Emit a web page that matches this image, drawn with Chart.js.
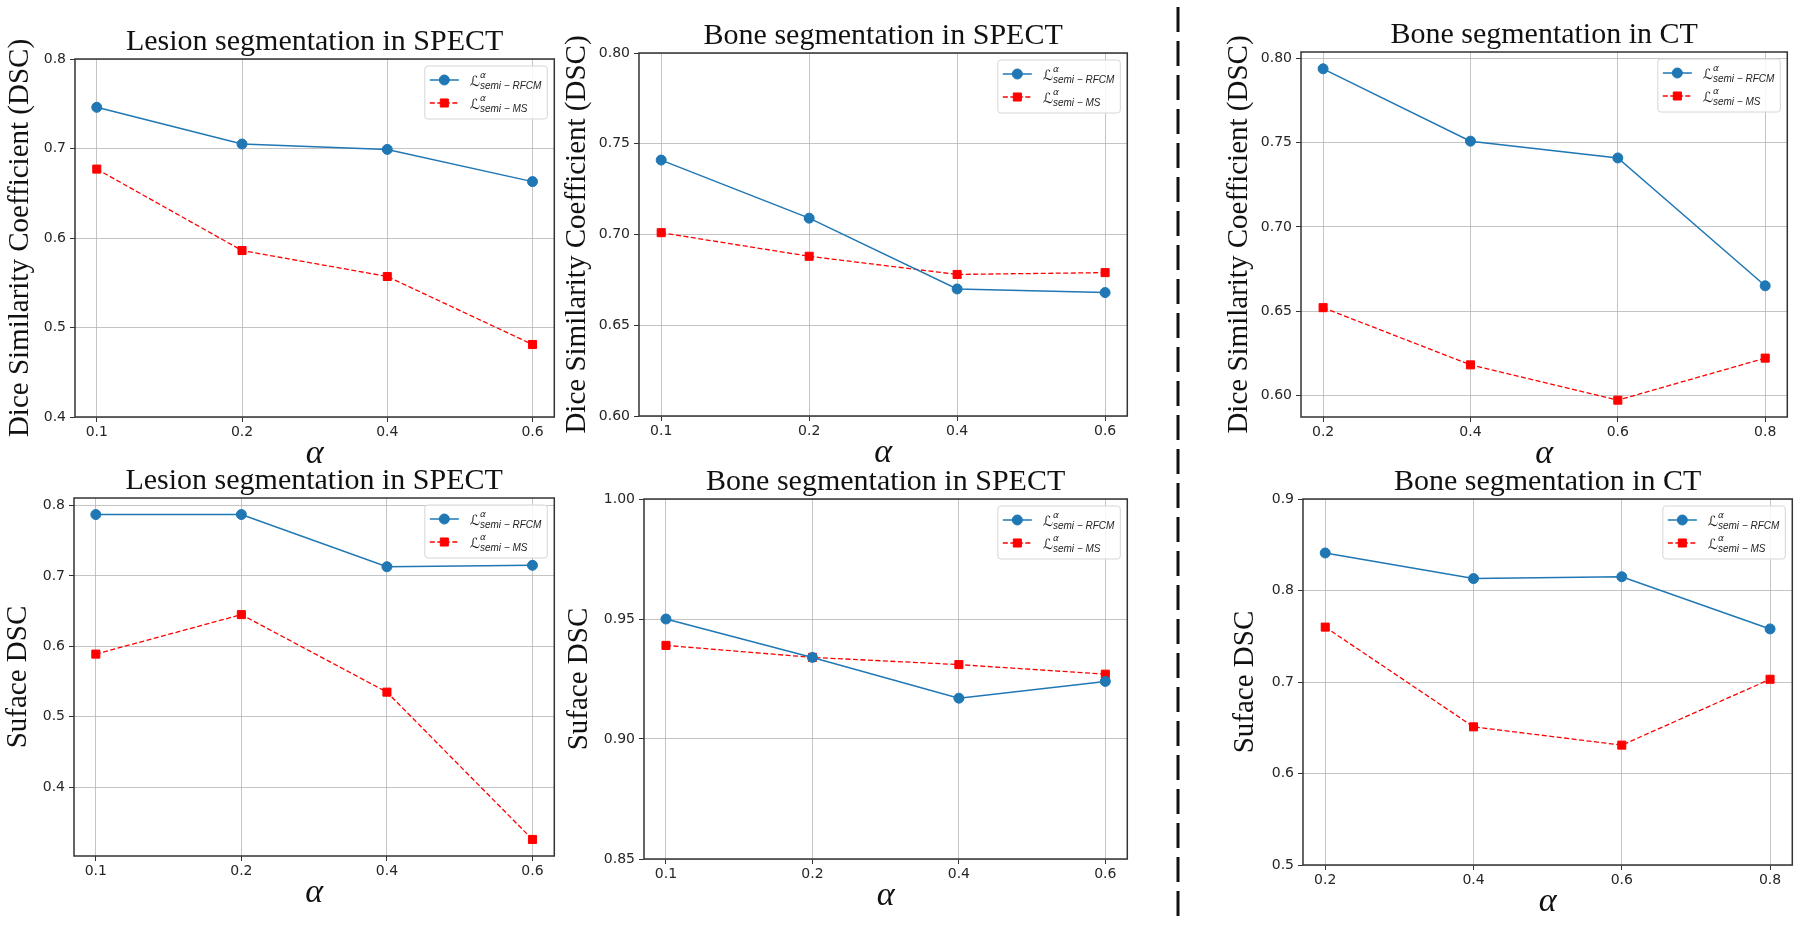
<!DOCTYPE html>
<html>
<head>
<meta charset="utf-8">
<title>Segmentation results vs alpha</title>
<script src="https://cdn.jsdelivr.net/npm/chart.js@4.4.1/dist/chart.umd.min.js"></script>
<style>
    html, body { margin: 0; padding: 0; background: #fff; }
    body { width: 1800px; height: 926px; position: relative; overflow: hidden; }
    canvas { position: absolute; }
    #divider { position: absolute; left: 0; top: 0; pointer-events: none; }
</style>
</head>
<body>
<canvas id="p1"></canvas>
<canvas id="p2"></canvas>
<canvas id="p3"></canvas>
<canvas id="p4"></canvas>
<canvas id="p5"></canvas>
<canvas id="p6"></canvas>
<svg id="divider" width="1800" height="926">
    <line x1="1178" y1="7" x2="1178" y2="918" stroke="#111" stroke-width="3" stroke-dasharray="25 9"/>
</svg>
<script>
// --- data -------------------------------------------------------------
const alphaSpect = ['0.1', '0.2', '0.4', '0.6'];
const alphaCt = ['0.2', '0.4', '0.6', '0.8'];

// legend subscripts (L^alpha_{...})
const seriesSub = ['semi \u2212 RFCM', 'semi \u2212 MS'];

// Dice similarity coefficient
const lesionDscRfcm = [0.746, 0.705, 0.699, 0.663];
const lesionDscMs = [0.677, 0.586, 0.557, 0.481];
const boneSpectDscRfcm = [0.741, 0.709, 0.670, 0.668];
const boneSpectDscMs = [0.701, 0.688, 0.678, 0.679];
const boneCtDscRfcm = [0.794, 0.751, 0.741, 0.665];
const boneCtDscMs = [0.652, 0.618, 0.597, 0.622];

// Surface DSC
const lesionSdscRfcm = [0.787, 0.787, 0.713, 0.715];
const lesionSdscMs = [0.589, 0.645, 0.535, 0.326];
const boneSpectSdscRfcm = [0.950, 0.934, 0.917, 0.924];
const boneSpectSdscMs = [0.939, 0.934, 0.931, 0.927];
const boneCtSdscRfcm = [0.841, 0.813, 0.815, 0.758];
const boneCtSdscMs = [0.760, 0.651, 0.631, 0.703];

// y tick labels
const ticksLesionDsc = ['0.4', '0.5', '0.6', '0.7', '0.8'];
const ticksBoneSpectDsc = ['0.60', '0.65', '0.70', '0.75', '0.80'];
const ticksBoneCtDsc = ['0.60', '0.65', '0.70', '0.75', '0.80'];
const ticksLesionSdsc = ['0.4', '0.5', '0.6', '0.7', '0.8'];
const ticksBoneSpectSdsc = ['0.85', '0.90', '0.95', '1.00'];
const ticksBoneCtSdsc = ['0.5', '0.6', '0.7', '0.8', '0.9'];

// --- layout / style ---------------------------------------------------
const SERIF = '"Liberation Serif", "Times New Roman", serif';
const SANS = '"DejaVu Sans", sans-serif';
const BLUE = '#1f77b4';
const RED = '#ff0000';
const GRID = 'rgba(176, 176, 176, 0.75)';
const FRAME = '#333333';

const Y_AXIS_W = 84;   // y scale box (ticks + title)
const TITLE_H = 33;    // chart title box
const X_AXIS_H = 57;   // x scale box (ticks + alpha)
const PAD_RIGHT = 6;
const DSC_LABEL = 'Dice Similarity Coefficient (DSC)';
const SDSC_LABEL = 'Suface DSC';

const panels = [
    { id: 'p1', title: 'Lesion segmentation in SPECT', yTitle: DSC_LABEL, alpha: alphaSpect,
      rfcm: lesionDscRfcm, ms: lesionDscMs, yTicks: ticksLesionDsc, yMin: 0.4, yMax: 0.8,
      box: { l: 75, r: 555, t: 59, b: 417 }, yGap: 52 },
    { id: 'p2', title: 'Bone segmentation in SPECT', yTitle: DSC_LABEL, alpha: alphaSpect,
      rfcm: boneSpectDscRfcm, ms: boneSpectDscMs, yTicks: ticksBoneSpectDsc, yMin: 0.6, yMax: 0.8,
      box: { l: 639, r: 1128, t: 53, b: 416 }, yGap: 59 },
    { id: 'p3', title: 'Bone segmentation in CT', yTitle: DSC_LABEL, alpha: alphaCt,
      rfcm: boneCtDscRfcm, ms: boneCtDscMs, yTicks: ticksBoneCtDsc, yMin: 0.587, yMax: 0.804,
      box: { l: 1301, r: 1788, t: 52, b: 417 }, yGap: 59 },
    { id: 'p4', title: 'Lesion segmentation in SPECT', yTitle: SDSC_LABEL, alpha: alphaSpect,
      rfcm: lesionSdscRfcm, ms: lesionSdscMs, yTicks: ticksLesionSdsc, yMin: 0.3025, yMax: 0.8105,
      box: { l: 74, r: 555, t: 498, b: 856 }, yGap: 53 },
    { id: 'p5', title: 'Bone segmentation in SPECT', yTitle: SDSC_LABEL, alpha: alphaSpect,
      rfcm: boneSpectSdscRfcm, ms: boneSpectSdscMs, yTicks: ticksBoneSpectSdsc, yMin: 0.85, yMax: 1.0,
      box: { l: 644, r: 1128, t: 499, b: 859 }, yGap: 62 },
    { id: 'p6', title: 'Bone segmentation in CT', yTitle: SDSC_LABEL, alpha: alphaCt,
      rfcm: boneCtSdscRfcm, ms: boneCtSdscMs, yTicks: ticksBoneCtSdsc, yMin: 0.5, yMax: 0.9,
      box: { l: 1303, r: 1793, t: 499, b: 865 }, yGap: 55 }
];

// full box around the plot area (matplotlib spines)
const framePlugin = {
    id: 'frame',
    afterDatasetsDraw(chart) {
        const { ctx, chartArea: a } = chart;
        ctx.save();
        ctx.strokeStyle = FRAME;
        ctx.lineWidth = 1.5;
        ctx.strokeRect(a.left, a.top, a.right - a.left, a.bottom - a.top);
        ctx.restore();
    }
};

// legend with math-style labels: L^alpha_{sub}
const mathLegend = {
    id: 'mathLegend',
    afterDraw(chart) {
        const { ctx, chartArea: a } = chart;
        const sets = chart.data.datasets;
        const fontL = 'italic 14px ' + SANS;
        const fontSup = 'italic 9px ' + SANS;
        const fontSub = 'italic 10px "Liberation Sans", Arial, sans-serif';

        ctx.save();
        ctx.font = fontL;
        const wL = ctx.measureText('\u2112').width;
        ctx.font = fontSub;
        const wSub = Math.max(...sets.map(d => ctx.measureText(d.sub).width));

        const boxW = 45 + wL + wSub + 6;
        const boxH = 53;
        const x0 = a.right - 7 - boxW;
        const y0 = a.top + 7;

        ctx.beginPath();
        ctx.roundRect(x0, y0, boxW, boxH, 3);
        ctx.fillStyle = 'rgba(255,255,255,0.85)';
        ctx.fill();
        ctx.strokeStyle = '#d6d6d6';
        ctx.lineWidth = 1;
        ctx.stroke();

        sets.forEach((d, i) => {
            const rowY = y0 + 14 + i * 23;
            // handle line
            ctx.beginPath();
            ctx.setLineDash(d.borderDash || []);
            ctx.strokeStyle = d.borderColor;
            ctx.lineWidth = d.borderWidth;
            ctx.moveTo(x0 + 5, rowY);
            ctx.lineTo(x0 + 34, rowY);
            ctx.stroke();
            ctx.setLineDash([]);

            // marker
            ctx.fillStyle = d.pointBackgroundColor;
            ctx.strokeStyle = d.pointBorderColor;
            ctx.lineWidth = 1;
            Chart.helpers.drawPoint(ctx, {
                pointStyle: d.pointStyle, radius: d.pointRadius, borderWidth: 1
            }, x0 + 19.5, rowY);

            // label
            const tx = x0 + 45;
            ctx.fillStyle = '#222';
            ctx.textBaseline = 'alphabetic';
            ctx.textAlign = 'left';
            ctx.font = fontL;
            ctx.fillText('\u2112', tx, rowY + 6);
            ctx.font = fontSup;
            ctx.fillText('\u03b1', tx + wL, rowY - 2);
            ctx.font = fontSub;
            ctx.fillText(d.sub, tx + wL, rowY + 9);
        });
        ctx.restore();
    }
};

function buildPanel(p) {
    const canvas = document.getElementById(p.id);
    canvas.width = (p.box.r - p.box.l) + Y_AXIS_W + PAD_RIGHT;
    canvas.height = (p.box.b - p.box.t) + TITLE_H + X_AXIS_H;
    canvas.style.left = (p.box.l - Y_AXIS_W) + 'px';
    canvas.style.top = (p.box.t - TITLE_H) + 'px';

    const yTitleSize = 29;
    const yTitleLh = 1.2;
    const yPadTop = Y_AXIS_W - p.yGap - 2.6 - (yTitleSize * yTitleLh) / 2;

    return new Chart(canvas, {
        type: 'line',
        data: {
            datasets: [{
                label: 'RFCM',
                sub: seriesSub[0],
                data: p.rfcm.map((v, i) => ({ x: i, y: v })),
                borderColor: BLUE,
                borderWidth: 1.5,
                pointStyle: 'circle',
                pointRadius: 5,
                pointBackgroundColor: BLUE,
                pointBorderColor: BLUE,
                pointBorderWidth: 1,
                clip: false
            }, {
                label: 'MS',
                sub: seriesSub[1],
                data: p.ms.map((v, i) => ({ x: i, y: v })),
                borderColor: RED,
                borderWidth: 1.3,
                borderDash: [5, 2.5],
                pointStyle: 'rect',
                pointRadius: 5.7,
                pointBackgroundColor: RED,
                pointBorderColor: RED,
                pointBorderWidth: 1,
                clip: false
            }]
        },
        options: {
            responsive: false,
            animation: false,
            events: [],
            layout: { padding: { left: 0, right: PAD_RIGHT, top: 0, bottom: 0 } },
            scales: {
                x: {
                    type: 'linear',
                    min: -0.15,
                    max: p.alpha.length - 1 + 0.15,
                    afterBuildTicks: (axis) => {
                        axis.ticks = p.alpha.map((_, i) => ({ value: i }));
                    },
                    afterFit: (axis) => { axis.height = X_AXIS_H; },
                    ticks: {
                        autoSkip: false,
                        maxRotation: 0,
                        padding: 2,
                        color: '#262626',
                        font: { family: SANS, size: 14 },
                        callback: (value) => p.alpha[value]
                    },
                    grid: { color: GRID, lineWidth: 1, drawTicks: true, tickLength: 5, tickColor: FRAME, tickWidth: 1 },
                    border: { display: false },
                    title: {
                        display: true,
                        text: '\u03b1',
                        color: '#111',
                        font: { family: SERIF, size: 34, style: 'italic', lineHeight: 1.2 },
                        padding: { top: 0, bottom: 0 }
                    }
                },
                y: {
                    type: 'linear',
                    min: p.yMin,
                    max: p.yMax,
                    afterBuildTicks: (axis) => {
                        axis.ticks = p.yTicks.map(s => ({ value: parseFloat(s) }));
                    },
                    afterFit: (axis) => { axis.width = Y_AXIS_W; },
                    ticks: {
                        autoSkip: false,
                        padding: 4,
                        color: '#262626',
                        font: { family: SANS, size: 14 },
                        callback: (value, index) => p.yTicks[index]
                    },
                    grid: { color: GRID, lineWidth: 1, drawTicks: true, tickLength: 5, tickColor: FRAME, tickWidth: 1 },
                    border: { display: false },
                    title: {
                        display: true,
                        text: p.yTitle,
                        color: '#111',
                        font: { family: SERIF, size: yTitleSize, lineHeight: yTitleLh },
                        padding: { top: yPadTop, bottom: 0 }
                    }
                }
            },
            plugins: {
                legend: { display: false },
                tooltip: { enabled: false },
                title: {
                    display: true,
                    text: p.title,
                    fullSize: false,
                    color: '#111',
                    font: { family: SERIF, size: 30, weight: 'normal', lineHeight: 1.1 },
                    padding: { top: 0, bottom: 0 }
                }
            }
        },
        plugins: [framePlugin, mathLegend]
    });
}

const charts = panels.map(buildPanel);
</script>
</body>
</html>
